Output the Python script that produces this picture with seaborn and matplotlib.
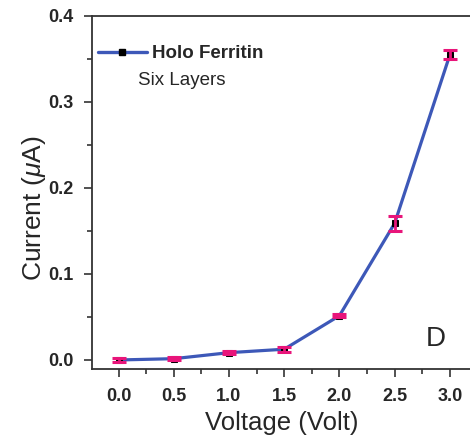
import matplotlib
matplotlib.use("Agg")
import matplotlib.pyplot as plt
import seaborn as sns
import pandas as pd
from matplotlib.lines import Line2D
from matplotlib.ticker import MultipleLocator

voltage = [0.0, 0.5, 1.0, 1.5, 2.0, 2.5, 3.0]
current = [0.0, 0.0015, 0.0085, 0.0125, 0.0515, 0.159, 0.355]
current_err = [0.002, 0.0015, 0.002, 0.003, 0.002, 0.0085, 0.005]
series_name = "Holo Ferritin"
note = "Six Layers"
panel = "D"

sns.set_theme(style="white")
plt.rcParams['font.family'] = ['Liberation Sans', 'DejaVu Sans']
plt.rcParams['mathtext.fontset'] = 'custom'
plt.rcParams['mathtext.it'] = 'Liberation Sans:italic'
plt.rcParams['mathtext.rm'] = 'Liberation Sans'

df = pd.DataFrame({"Voltage": voltage, "Current": current})

fig = plt.figure(figsize=(4.70, 4.38), dpi=100)
ax = fig.add_axes([92/470, (438-369)/438, (472-92)/470, (369-16)/438])

blue = "#3d58b8"
pink = "#e8157a"

sns.lineplot(data=df, x="Voltage", y="Current", ax=ax, color=blue, linewidth=2.3,
             marker="s", markersize=5, markerfacecolor="black", markeredgecolor="black",
             zorder=2)
ax.errorbar(voltage, current, yerr=current_err, fmt="none", ecolor=pink,
            elinewidth=2.0, capsize=5.2, capthick=2.2, zorder=3)

ax.set_xlim(-0.24, 3.2)
ax.set_ylim(-0.0105, 0.4)
ax.xaxis.set_minor_locator(MultipleLocator(0.25))
ax.yaxis.set_minor_locator(MultipleLocator(0.05))
ax.set_xticks(voltage)
ax.set_xticklabels([f"{v:.1f}" for v in voltage], fontweight="bold", fontsize=13)
yt = [0.0, 0.1, 0.2, 0.3, 0.4]
ax.set_yticks(yt)
ax.set_yticklabels([f"{v:.1f}" for v in yt], fontweight="bold", fontsize=13)

ax.tick_params(axis="both", which="major", direction="out", length=6, width=1.2,
               color="#333333", left=True, bottom=True)
ax.tick_params(axis="both", which="minor", direction="out", length=3.5, width=1.2,
               color="#333333", left=True, bottom=True)
ax.tick_params(axis="y", which="both", right=True, labelright=False)
ax.tick_params(axis="x", pad=8)
ax.tick_params(axis="y", pad=7)

for s in ax.spines.values():
    s.set_color("#333333")
    s.set_linewidth(1.3)

ax.set_xlabel("Voltage (Volt)", fontsize=18.5, labelpad=4)
ax.set_ylabel(r"Current ($\mu$A)", fontsize=19)
ax.yaxis.set_label_coords(-0.115, 0.455)

handle = Line2D([0], [0], color=blue, linewidth=2.4, marker="s", markersize=5,
                markerfacecolor="black", markeredgecolor="black")
leg = ax.legend([handle], [series_name], loc="upper left", frameon=False,
                bbox_to_anchor=(-0.029, 0.965), handlelength=2.6, handletextpad=0.3,
                prop={"weight": "bold", "size": 13.5})
ax.text(0.122, 0.805, note, transform=ax.transAxes, fontsize=13.5)
ax.text(0.905, 0.065, panel, transform=ax.transAxes, fontsize=20, ha="center")

fig.savefig("out.png", dpi=100)
